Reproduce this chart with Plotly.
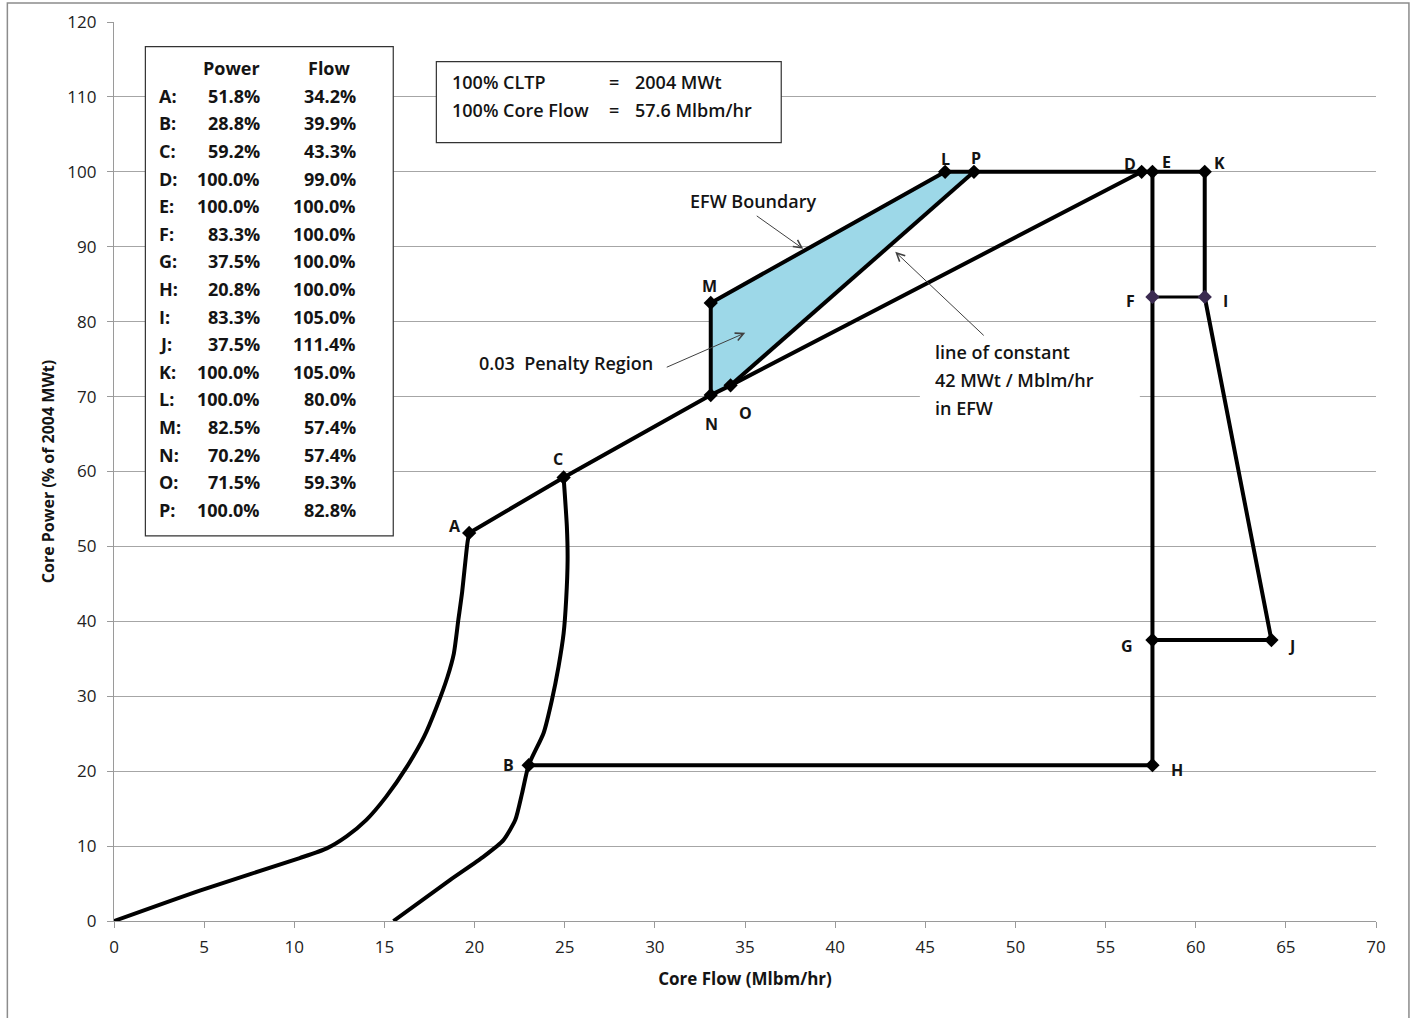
import plotly.graph_objects as go

# ---------------- data ----------------
point_names = ["A", "B", "C", "D", "E", "F", "G", "H", "I", "J", "K", "L", "M", "N", "O", "P"]
# plotted coordinates (core flow Mlbm/hr, core power %)
pt_flow = [19.7, 23.0, 24.94, 57.0, 57.6, 57.6, 57.6, 57.6, 60.5, 64.2, 60.5, 46.1, 33.1, 33.1, 34.2, 47.7]
pt_power = [51.8, 20.8, 59.2, 100.0, 100.0, 83.3, 37.5, 20.8, 83.3, 37.5, 100.0, 100.0, 82.5, 70.2, 71.5, 100.0]

# table text values
table_power = ["51.8%", "28.8%", "59.2%", "100.0%", "100.0%", "83.3%", "37.5%", "20.8%",
               "83.3%", "37.5%", "100.0%", "100.0%", "82.5%", "70.2%", "71.5%", "100.0%"]
table_flow = ["34.2%", "39.9%", "43.3%", "99.0%", "100.0%", "100.0%", "100.0%", "100.0%",
              "105.0%", "111.4%", "105.0%", "80.0%", "57.4%", "57.4%", "59.3%", "82.8%"]

# natural circulation curve
nat_flow = [0, 4.8, 10.3, 11.8, 12.9, 14.0, 15.1, 16.25, 17.2, 17.9, 18.5, 18.85, 19.1, 19.3, 19.6, 19.7]
nat_power = [0, 4.1, 8.4, 9.7, 11.3, 13.5, 16.6, 20.6, 24.6, 28.6, 32.6, 35.7, 40.2, 43.7, 50.4, 51.8]
# minimum pump speed curve
pump_flow = [15.5, 18.65, 20.5, 21.6, 22.26, 22.63, 23.0, 23.83, 24.29, 24.66, 24.94, 25.08, 25.16, 25.12, 24.94]
pump_power = [0, 5.5, 8.6, 10.8, 13.5, 17.0, 20.8, 25.1, 29.5, 34.0, 38.4, 42.9, 48.2, 52.6, 59.2]

# polyline paths through named points
paths = [
    ["A", "C", "N", "O", "D"],
    ["B", "H"],
    ["M", "L", "P", "D", "E", "K"],
    ["N", "M"],
    ["O", "P"],
    ["E", "F", "G", "H"],
    ["K", "I", "J", "G"],
]
thin_paths = [["F", "I"]]
penalty_region = ["M", "L", "P", "O", "N", "M"]

x_ticks = list(range(0, 71, 5))
y_ticks = list(range(0, 121, 10))

# ---------------- styles ----------------
FONT = "'Open Sans', Lato, sans-serif"
TXT = "#141414"
P = {n: (x, y) for n, x, y in zip(point_names, pt_flow, pt_power)}

label_shift = {"A": (-14, 7), "B": (-20, 0), "C": (-6, 18), "D": (-12, 8), "E": (14, 10),
               "K": (15, 9), "F": (-22, -4), "I": (21, -4), "G": (-25, -6), "J": (20, -6),
               "H": (25, -5), "L": (0, 13), "P": (2, 14), "M": (-1, 17), "N": (1, -29),
               "O": (15, -28)}

fig = go.Figure()

# penalty region fill
fig.add_trace(go.Scatter(
    x=[P[n][0] for n in penalty_region], y=[P[n][1] for n in penalty_region],
    fill="toself", fillcolor="#9dd8e8", mode="none", hoverinfo="skip"))

# curves
for fx, fy in [(nat_flow, nat_power), (pump_flow, pump_power)]:
    fig.add_trace(go.Scatter(x=fx, y=fy, mode="lines",
                             line=dict(color="black", width=4, shape="spline", smoothing=0.6)))

for path in paths:
    fig.add_trace(go.Scatter(x=[P[n][0] for n in path], y=[P[n][1] for n in path], mode="lines",
                             line=dict(color="black", width=4)))
for path in thin_paths:
    fig.add_trace(go.Scatter(x=[P[n][0] for n in path], y=[P[n][1] for n in path], mode="lines",
                             line=dict(color="black", width=3)))

# markers
mcolors = ["#3a2a50" if n in ("F", "I") else "black" for n in point_names]
fig.add_trace(go.Scatter(x=pt_flow, y=pt_power, mode="markers",
                         marker=dict(symbol="diamond", size=11, color=mcolors)))

annotations = []
for n in point_names:
    dx, dy = label_shift[n]
    annotations.append(dict(x=P[n][0], y=P[n][1], text=n, showarrow=False, xshift=dx, yshift=dy,
                            font=dict(family=FONT, size=16, color=TXT, weight="bold")))

shapes = []
# outer chart border
shapes.append(dict(type="rect", xref="paper", yref="paper", x0=-0.0845, x1=1.0261, y0=-0.11, y1=1.0211,
                   line=dict(color="#8c8c8c", width=1.5), fillcolor="rgba(0,0,0,0)", layer="above"))
# table box
shapes.append(dict(type="rect", xref="x", yref="y", x0=1.74, x1=15.49, y0=51.4, y1=116.7,
                   line=dict(color="#333333", width=1.2), fillcolor="white", layer="above"))
# CLTP box
shapes.append(dict(type="rect", xref="x", yref="y", x0=17.88, x1=37.01, y0=103.9, y1=114.7,
                   line=dict(color="#333333", width=1.2), fillcolor="white", layer="above"))
# white backing of 'line of constant' text (covers gridline only)
shapes.append(dict(type="rect", xref="x", yref="y", x0=44.7, x1=56.9, y0=66.5, y1=77.5,
                   line=dict(width=0), fillcolor="white", layer="between"))

# table text
px_to_y = lambda py: (921 - py) / 7.49
px_to_x = lambda px: (px - 113.7) / 18.03
tfont = dict(family=FONT, size=18, color=TXT, weight="bold")
annotations.append(dict(x=px_to_x(231), y=px_to_y(68), text="Power", showarrow=False, font=tfont))
annotations.append(dict(x=px_to_x(329), y=px_to_y(68), text="Flow", showarrow=False, font=tfont))
for i, n in enumerate(point_names):
    yy = px_to_y(96 + i * 27.6)
    annotations.append(dict(x=px_to_x(157), y=yy, text=n + ":", showarrow=False, xanchor="left", font=tfont))
    annotations.append(dict(x=px_to_x(262), y=yy, text=table_power[i], showarrow=False, xanchor="right", font=tfont))
    annotations.append(dict(x=px_to_x(358), y=yy, text=table_flow[i], showarrow=False, xanchor="right", font=tfont))

# CLTP box text
bfont = dict(family=FONT, size=18, color=TXT, weight=600)
for py, left, right in [(82, "100% CLTP", "2004 MWt"), (110, "100% Core Flow", "57.6 Mlbm/hr")]:
    annotations.append(dict(x=px_to_x(450), y=px_to_y(py), text=left, showarrow=False, xanchor="left", font=bfont))
    annotations.append(dict(x=px_to_x(614), y=px_to_y(py), text="=", showarrow=False, font=bfont))
    annotations.append(dict(x=px_to_x(633), y=px_to_y(py), text=right, showarrow=False, xanchor="left", font=bfont))

# callouts
cfont = dict(family=FONT, size=18, color=TXT, weight=600)
annotations.append(dict(x=px_to_x(753), y=px_to_y(201), text="EFW Boundary", showarrow=False, font=cfont))
annotations.append(dict(x=px_to_x(566), y=px_to_y(363), text="0.03  Penalty Region", showarrow=False, font=cfont))
for i, t in enumerate(["line of constant", "42 MWt / Mblm/hr", "in EFW"]):
    annotations.append(dict(x=px_to_x(933), y=px_to_y(352 + 28 * i), text=t, showarrow=False,
                            xanchor="left", font=cfont))
# arrows (head, tail)
for hx, hy, tx, ty in [(803, 249, 755, 215), (745, 333, 665, 368), (895, 252, 985, 337)]:
    annotations.append(dict(x=px_to_x(hx), y=px_to_y(hy), ax=px_to_x(tx), ay=px_to_y(ty),
                            xref="x", yref="y", axref="x", ayref="y", text="", showarrow=True,
                            arrowhead=5, arrowsize=1.6, arrowwidth=1, arrowcolor="#404040"))

fig.update_layout(
    width=1413, height=1018,
    margin=dict(l=113.7, r=37, t=22, b=97, autoexpand=False),
    paper_bgcolor="white", plot_bgcolor="white",
    showlegend=False,
    shapes=shapes, annotations=annotations,
    font=dict(family=FONT, color=TXT),
)
fig.update_xaxes(range=[0, 70], tickvals=x_ticks, showgrid=False, showline=True, linecolor="#9a9a9a",
                 linewidth=1.2, ticks="outside", ticklen=6, tickcolor="#9a9a9a", zeroline=False,
                 ticklabelstandoff=4,
                 tickfont=dict(family=FONT, size=17, color="#222222"),
                 title=dict(text="Core Flow (Mlbm/hr)", standoff=16,
                            font=dict(family=FONT, size=17, color=TXT, weight="bold")))
fig.update_yaxes(range=[0, 120], tickvals=y_ticks, showgrid=True, gridcolor="#a6a6a6", gridwidth=1,
                 showline=True, linecolor="#9a9a9a", linewidth=1.2, ticks="outside", ticklen=6,
                 tickcolor="#9a9a9a", zeroline=False, ticklabelstandoff=7,
                 tickfont=dict(family=FONT, size=17, color="#222222"),
                 title=dict(text="Core Power (% of 2004 MWt)", standoff=8,
                            font=dict(family=FONT, size=16, color=TXT, weight="bold")))

fig.write_html("out.html", config={"displayModeBar": False},
               post_script="document.body.style.margin='0px';")
